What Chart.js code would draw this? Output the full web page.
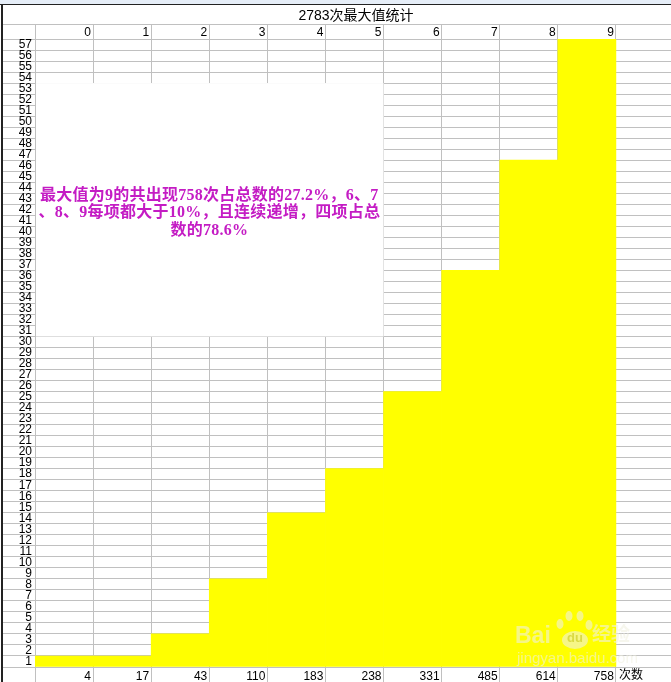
<!DOCTYPE html>
<html lang="zh-CN">
<head>
  <meta charset="utf-8">
  <title>2783次最大值统计</title>
  <script src="https://cdn.jsdelivr.net/npm/chart.js@4/dist/chart.umd.js"></script>
  <style>
    html, body { margin: 0; background: #fff; overflow: hidden; }
    #wrap { position: relative; width: 671px; height: 682px; overflow: hidden; }
    #chart-0 { position: absolute; left: 0; top: 0; }
    #top-strip { position: absolute; left: 0; top: 0; width: 671px; height: 4px; background: #e6eef8; border-bottom: 1px solid #222; }
    #left-strip { position: absolute; left: 1px; top: 4px; width: 2px; height: 678px; background: #222; }
  </style>
</head>
<body>
  <div id="wrap">
    <canvas id="chart-0" width="674" height="682"></canvas>
    <div id="top-strip"></div>
    <div id="left-strip"></div>
  </div>

  <script>
    // last empty column is the spare one on the right of the table
    let digits = ['0', '1', '2', '3', '4', '5', '6', '7', '8', '9', ''];
    let counts = ['4', '17', '43', '110', '183', '238', '331', '485', '614', '758', ''];
    let heights = [1, 1, 3, 8, 14, 18, 25, 36, 46, 57, null];
    let noteLines = [
      '最大值为9的共出现758次占总数的27.2%，6、7',
      '、8、9每项都大于10%，且连续递增，四项占总',
      '数的78.6%'
    ];
    let titleText = '2783次最大值统计';
    let countsLabel = '次数';

    let gridColor = '#c0c0c0';
    let tickFont = { family: "'Liberation Sans', 'Noto Sans CJK SC'", size: 12 };

    let sheetPlugin = {
      id: 'sheet',
      afterLayout(chart) {
        // title sits right of the plot centre in the original
        chart.titleBlock.left += 19;
        chart.titleBlock.right += 19;
      },
      beforeDatasetsDraw(chart) {
        let ctx = chart.ctx, x = chart.scales.x, y = chart.scales.y;
        let boxRight = x.getPixelForValue(5) + (x.getPixelForValue(1) - x.getPixelForValue(0)) / 2;
        ctx.save();
        // note box hides the grid behind it
        ctx.fillStyle = '#fff';
        ctx.fillRect(x.left + 1, y.getPixelForValue(53), boxRight - x.left - 1, y.getPixelForValue(30) - y.getPixelForValue(53));
        // header row top line
        ctx.fillStyle = gridColor;
        ctx.fillRect(3, chart.scales.x2.top, chart.width, 1);
        ctx.restore();
      },
      afterDatasetsDraw(chart) {
        let ctx = chart.ctx, x = chart.scales.x, y = chart.scales.y;
        let half = (x.getPixelForValue(1) - x.getPixelForValue(0)) / 2;
        ctx.save();
        ctx.textBaseline = 'middle';
        ctx.textAlign = 'center';
        ctx.fillStyle = '#c41cc4';
        ctx.font = "bold 16px 'Liberation Serif', 'Noto Sans CJK SC'";
        ctx.letterSpacing = '0.25px';
        let noteX = (x.left + x.getPixelForValue(5) + half) / 2;
        noteLines.forEach((line, i) => {
          ctx.fillText(line, noteX, y.getPixelForValue(42.8) + i * 17.5);
        });
        ctx.letterSpacing = '0px';

        ctx.textAlign = 'left';
        ctx.textBaseline = 'top';
        ctx.fillStyle = '#000';
        ctx.font = "12px 'Noto Sans CJK SC'";
        ctx.fillText(countsLabel, x.getPixelForValue(10) - half + 3, x.top + 1);

        // watermark
        ctx.fillStyle = 'rgba(240,240,225,0.6)';
        ctx.font = "bold 23px 'Liberation Sans'";
        ctx.fillText('Bai', 515, 625);
        ctx.font = "bold 19px 'Noto Sans CJK SC'";
        ctx.fillText('经验', 592, 624);
        ctx.font = "15px 'Liberation Sans'";
        ctx.fillText('jingyan.baidu.com', 517, 651);
        ctx.beginPath();
        ctx.ellipse(575, 640, 13, 9, 0, 0, Math.PI * 2);
        [[560, 624, 3.5, 5], [569, 616, 3.5, 5], [580, 616, 3.5, 5], [589, 625, 3.5, 5]].forEach(p => {
          ctx.moveTo(p[0] + p[2], p[1]);
          ctx.ellipse(p[0], p[1], p[2], p[3], 0, 0, Math.PI * 2);
        });
        ctx.fill();
        ctx.fillStyle = 'rgba(215,215,60,0.9)';
        ctx.font = "bold 13px 'Liberation Sans'";
        ctx.fillText('du', 567, 632);
        ctx.restore();
      }
    };

    let chart = new Chart('chart-0', {
      type: 'bar',
      data: {
        labels: counts,
        datasets: [{
          data: heights,
          backgroundColor: '#ffff00',
          barPercentage: 1,
          categoryPercentage: 1,
          xAxisID: 'x',
          yAxisID: 'y'
        }]
      },
      options: {
        responsive: false,
        animation: false,
        layout: { padding: 0 },
        plugins: {
          legend: { display: false },
          tooltip: { enabled: false },
          title: {
            display: true,
            text: titleText,
            color: '#000',
            font: { family: tickFont.family, size: 14, weight: 'normal', lineHeight: 1 },
            padding: { top: 9, bottom: 1 }
          }
        },
        scales: {
          x: {
            position: 'bottom',
            offset: true,
            grid: { offset: true, color: gridColor, tickColor: gridColor, tickLength: 15 },
            border: { color: gridColor },
            afterFit(scale) { scale.height = 15; },
            ticks: {
              color: '#000', font: tickFont, align: 'end', labelOffset: 27,
              padding: -13, maxRotation: 0, autoSkip: false
            }
          },
          x2: {
            type: 'category',
            labels: digits,
            position: 'top',
            offset: true,
            grid: { offset: true, drawOnChartArea: false, color: gridColor, tickColor: gridColor, tickLength: 15 },
            border: { color: gridColor },
            afterFit(scale) { scale.height = 15; },
            ticks: {
              color: '#000', font: tickFont, align: 'end', labelOffset: 27,
              padding: -16, maxRotation: 0, autoSkip: false
            }
          },
          y: {
            min: 0,
            max: 57,
            grid: { color: gridColor, tickColor: gridColor, tickLength: 32 },
            border: { color: gridColor },
            afterFit(scale) { scale.width = 35; },
            ticks: {
              stepSize: 1, autoSkip: false, color: '#000', font: tickFont,
              padding: -29, labelOffset: 5.5,
              callback: v => (v === 0 ? '' : v)
            }
          }
        }
      },
      plugins: [sheetPlugin]
    });
  </script>
</body>
</html>
